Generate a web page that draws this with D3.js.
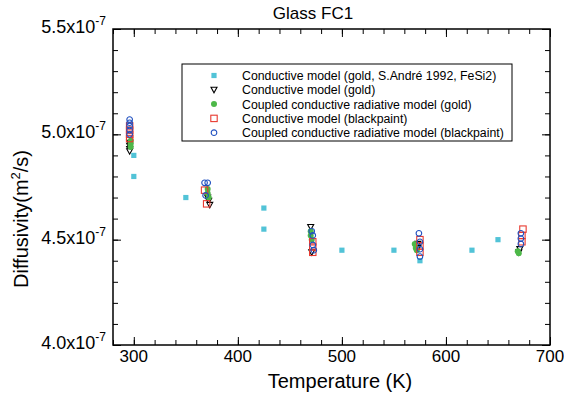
<!DOCTYPE html>
<html>
<head>
<meta charset="utf-8">
<script src="https://cdn.jsdelivr.net/npm/d3@7"></script>
<style>
  body { margin: 0; background: #fff; }
  text { font-family: "Liberation Sans", Arial, sans-serif; }
</style>
</head>
<body>
<div id="chart"></div>
<script>
// temperatures (K) and diffusivities (x1e-7 m2/s)
var andreT = [300, 300, 350, 425, 425, 500, 550, 575, 625, 650];
var andreD = [4.90, 4.80, 4.70, 4.65, 4.55, 4.45, 4.45, 4.40, 4.45, 4.50];

var condGoldT = [296, 296, 296, 296, 371, 372, 373, 470, 471, 573, 573, 670, 671];
var condGoldD = [4.96, 4.945, 4.93, 4.92, 4.70, 4.685, 4.665, 4.56, 4.44, 4.48, 4.46, 4.44, 4.455];

var coupGoldT = [297, 297, 297, 371, 371, 372, 470, 470, 471, 570, 571, 572, 669, 670];
var coupGoldD = [4.97, 4.955, 4.94, 4.74, 4.72, 4.70, 4.54, 4.52, 4.50, 4.48, 4.46, 4.45, 4.445, 4.435];

var condBlackT = [296, 296, 296, 296, 368, 370, 472, 472, 472, 575, 575, 575, 674, 673, 673];
var condBlackD = [5.04, 5.02, 5.00, 4.98, 4.735, 4.67, 4.49, 4.465, 4.44, 4.50, 4.47, 4.44, 4.55, 4.52, 4.49];

var coupBlackT = [296, 296, 296, 296, 296, 368, 371, 369, 471, 472, 472, 473, 574, 575, 575, 575, 672, 672, 672];
var coupBlackD = [5.07, 5.055, 5.04, 5.02, 5.00, 4.77, 4.77, 4.71, 4.54, 4.52, 4.475, 4.45, 4.53, 4.49, 4.455, 4.42, 4.53, 4.505, 4.48];

var legendLabels = [
  "Conductive model (gold, S.André 1992, FeSi2)",
  "Conductive model (gold)",
  "Coupled conductive radiative model (gold)",
  "Conductive model (blackpaint)",
  "Coupled conductive radiative model (blackpaint)"
];
var xTicks = [300, 400, 500, 600, 700];
var yTicks = [4.0, 4.5, 5.0, 5.5];

var width = 564, height = 400;
var margin = {top: 29, right: 14, bottom: 55, left: 113};

var svg = d3.select("#chart").append("svg")
  .attr("width", width)
  .attr("height", height);

var x = d3.scaleLinear().domain([280, 700]).range([margin.left, width - margin.right]);
var y = d3.scaleLinear().domain([4.0, 5.5]).range([height - margin.bottom, margin.top]);

function zip(ts, ds) {
  return ts.map(function(t, i) { return {t: t, d: ds[i]}; });
}

var series = [
  {name: legendLabels[0], data: zip(andreT, andreD), shape: "fsquare", color: "#52c3d7"},
  {name: legendLabels[1], data: zip(condGoldT, condGoldD), shape: "tri", color: "#000"},
  {name: legendLabels[2], data: zip(coupGoldT, coupGoldD), shape: "fcircle", color: "#4db848"},
  {name: legendLabels[3], data: zip(condBlackT, condBlackD), shape: "osquare", color: "#e8392f"},
  {name: legendLabels[4], data: zip(coupBlackT, coupBlackD), shape: "ocircle", color: "#2050c0"}
];

function drawMarker(g, shape, color) {
  if (shape == "fsquare") {
    g.append("rect").attr("x", -2.6).attr("y", -2.6).attr("width", 5.2).attr("height", 5.2)
      .attr("fill", color);
  } else if (shape == "tri") {
    g.append("path").attr("d", "M-3,-2.5L3,-2.5L0,3Z")
      .attr("fill", "#fff").attr("stroke", color).attr("stroke-width", 1.1);
  } else if (shape == "fcircle") {
    g.append("circle").attr("r", 3).attr("fill", color);
  } else if (shape == "osquare") {
    g.append("rect").attr("x", -3.2).attr("y", -3.2).attr("width", 6.4).attr("height", 6.4)
      .attr("fill", "none").attr("stroke", color).attr("stroke-width", 1.1);
  } else {
    g.append("circle").attr("r", 2.8)
      .attr("fill", "none").attr("stroke", color).attr("stroke-width", 1.1);
  }
}

// axes: ticks pointing inward on all four sides
var xMinor = d3.range(280, 701, 20);
var yMinor = d3.range(40, 56, 1).map(function(v) { return v / 10; });

function addAxis(axis, transform) {
  svg.append("g").attr("transform", transform).call(axis)
    .call(function(g) { g.select(".domain").remove(); })
    .selectAll("line").attr("stroke", "#000").attr("stroke-width", 1);
}

var b = height - margin.bottom, r = width - margin.right;
addAxis(d3.axisBottom(x).tickValues(xMinor).tickSize(-5).tickFormat(""), "translate(0," + b + ")");
addAxis(d3.axisBottom(x).tickValues(xTicks).tickSize(-8).tickFormat(""), "translate(0," + b + ")");
addAxis(d3.axisTop(x).tickValues(xMinor).tickSize(-5).tickFormat(""), "translate(0," + margin.top + ")");
addAxis(d3.axisTop(x).tickValues(xTicks).tickSize(-8).tickFormat(""), "translate(0," + margin.top + ")");
addAxis(d3.axisLeft(y).tickValues(yMinor).tickSize(-5).tickFormat(""), "translate(" + margin.left + ",0)");
addAxis(d3.axisLeft(y).tickValues(yTicks).tickSize(-8).tickFormat(""), "translate(" + margin.left + ",0)");
addAxis(d3.axisRight(y).tickValues(yMinor).tickSize(-5).tickFormat(""), "translate(" + r + ",0)");
addAxis(d3.axisRight(y).tickValues(yTicks).tickSize(-8).tickFormat(""), "translate(" + r + ",0)");

svg.append("rect")
  .attr("x", margin.left).attr("y", margin.top)
  .attr("width", r - margin.left).attr("height", b - margin.top)
  .attr("fill", "none").attr("stroke", "#000").attr("stroke-width", 1.5);

// tick labels
svg.selectAll(".xlab").data(xTicks).enter().append("text")
  .attr("x", function(d) { return x(d); })
  .attr("y", b + 17)
  .attr("text-anchor", "middle")
  .attr("font-size", 17)
  .text(function(d) { return d; });

var yl = svg.selectAll(".ylab").data(yTicks).enter().append("text")
  .attr("x", margin.left - 7)
  .attr("y", function(d) { return y(d) + 4; })
  .attr("text-anchor", "end")
  .attr("font-size", 18);
yl.append("tspan").text(function(d) { return d.toFixed(1) + "x10"; });
yl.append("tspan").attr("font-size", 12).attr("dy", -8).text("-7");

// points
series.forEach(function(s) {
  svg.append("g").selectAll("g").data(s.data).enter().append("g")
    .attr("transform", function(d) { return "translate(" + x(d.t) + "," + y(d.d) + ")"; })
    .each(function() { drawMarker(d3.select(this), s.shape, s.color); });
});

// legend
var lg = svg.append("g");
lg.append("rect").attr("x", 182).attr("y", 64).attr("width", 330).attr("height", 77)
  .attr("fill", "#fff").attr("stroke", "#000").attr("stroke-width", 1);
series.forEach(function(s, i) {
  var ry = 75.5 + i * 14.3;
  var m = lg.append("g").attr("transform", "translate(214," + ry + ")");
  drawMarker(m, s.shape, s.color);
  lg.append("text").attr("x", 242).attr("y", ry + 4.5)
    .attr("font-size", 12.3).text(s.name);
});

// titles
svg.append("text").attr("x", 313).attr("y", 19).attr("text-anchor", "middle")
  .attr("font-size", 17).text("Glass FC1");
svg.append("text").attr("x", 340).attr("y", 388).attr("text-anchor", "middle")
  .attr("font-size", 20).text("Temperature (K)");
var yt = svg.append("text")
  .attr("transform", "translate(28,219) rotate(-90)")
  .attr("text-anchor", "middle")
  .attr("font-size", 20);
yt.append("tspan").text("Diffusivity(m");
yt.append("tspan").attr("font-size", 13).attr("dy", -8).text("2");
yt.append("tspan").attr("dy", 8).text("/s)");
</script>
</body>
</html>
